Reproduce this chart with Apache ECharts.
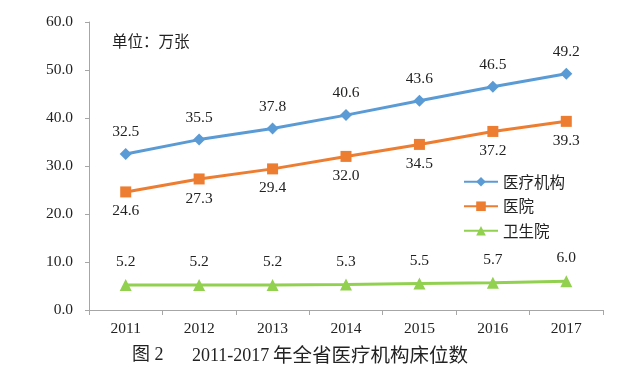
<!DOCTYPE html>
<html><head><meta charset="utf-8">
<script src="https://cdn.jsdelivr.net/npm/echarts@6/dist/echarts.min.js"></script>
<style>html,body{margin:0;padding:0;background:#fff}#c{width:636px;height:374px}</style>
</head><body><div id="c"></div>
<script>
const years = ['2011','2012','2013','2014','2015','2016','2017'];
const medicalInstitutions = [32.5,35.5,37.8,40.6,43.6,46.5,49.2];
const hospitals = [24.6,27.3,29.4,32.0,34.5,37.2,39.3];
const healthCenters = [5.2,5.2,5.2,5.3,5.5,5.7,6.0];
const seriesNames = ['医疗机构','医院','卫生院'];
const unitText = '单位：万张';
const captionFig = '图 2';
const captionYears = '2011-2017';
const captionTitle = '年全省医疗机构床位数';

const serif = '"Liberation Serif","Times New Roman",serif';
const cjk = '"Noto Sans CJK SC",sans-serif';
const mixed = '"Liberation Serif","Noto Sans CJK SC",serif';
const chart = echarts.init(document.getElementById('c'));
function lbl(pos, dist){
  return {show:true, position:pos, distance:dist, color:'#222', fontFamily:serif, fontSize:15.5,
    formatter:p=>p.value.toFixed(1)};
}
chart.setOption({
  animation:false,
  grid:{left:89, top:22, width:514, height:288},
  legend:{orient:'vertical', left:463, top:174, padding:0, itemWidth:34, itemHeight:12, itemGap:9,
    textStyle:{fontFamily:cjk, fontSize:15.5, color:'#222'},
    data:seriesNames},
  xAxis:{type:'category', data:years, boundaryGap:true,
    axisLine:{lineStyle:{color:'#a6a6a6'}},
    axisTick:{show:true, length:5, lineStyle:{color:'#a6a6a6'}},
    axisLabel:{color:'#222', fontFamily:serif, fontSize:15.5, margin:11}},
  yAxis:{type:'value', min:0, max:60, interval:10,
    axisLine:{show:true, lineStyle:{color:'#a6a6a6'}},
    axisTick:{show:true, length:4, lineStyle:{color:'#a6a6a6'}},
    splitLine:{show:false},
    axisLabel:{color:'#222', fontFamily:serif, fontSize:15.5, margin:16, formatter:v=>v.toFixed(1)}},
  graphic:[
    {type:'text', left:112, top:33, style:{text:unitText, font:'15.5px '+cjk, fill:'#222'}},
    {type:'text', left:132, top:346, style:{text:captionFig, font:'18px '+mixed, fill:'#222'}},
    {type:'text', left:192, top:347, style:{text:captionYears, font:'18px '+serif, fill:'#222'}},
    {type:'text', left:273, top:345, style:{text:captionTitle, font:'19.5px '+cjk, fill:'#222'}}
  ],
  series:[
    {name:seriesNames[0], type:'line', data:medicalInstitutions, symbol:'diamond', symbolSize:12,
      lineStyle:{width:3, color:'#5B9BD5'}, itemStyle:{color:'#5B9BD5'}, label:lbl('top',8)},
    {name:seriesNames[1], type:'line', data:hospitals, symbol:'rect', symbolSize:11,
      lineStyle:{width:3, color:'#ED7D31'}, itemStyle:{color:'#ED7D31'}, label:lbl('bottom',6)},
    {name:seriesNames[2], type:'line', data:healthCenters, symbol:'triangle', symbolSize:12,
      lineStyle:{width:3, color:'#92D050'}, itemStyle:{color:'#92D050'}, label:lbl('top',9)}
  ]
});
</script></body></html>
